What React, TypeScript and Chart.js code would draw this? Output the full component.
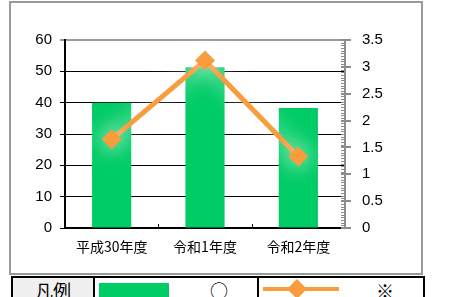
import React, { useEffect, useRef } from "react";
import { Chart, registerables } from "chart.js";

Chart.register(...registerables);

const categories = ["平成30年度", "令和1年度", "令和2年度"];
const barValues = [40, 51.3, 38.3];
const lineValues = [1.65, 3.12, 1.33];
const leftTicks = [0, 10, 20, 30, 40, 50, 60];
const rightTicks = [0, 0.5, 1, 1.5, 2, 2.5, 3, 3.5];
const legendTitle = "凡例";
const legendBarLabel = "○";
const legendLineLabel = "※";

const GREEN = "#00CC66";
const ORANGE = "#F89C3C";
const NUM_FONT = "'Liberation Sans', Arial, sans-serif";
const CJK_FONT = "'Noto Sans CJK JP', sans-serif";

const glowPlugin = {
  id: "glow",
  beforeDatasetDraw(chart: any, args: any) {
    if (args.index === 1) {
      const ctx = chart.ctx;
      ctx.save();
      ctx.shadowColor = "rgba(255,255,255,1)";
      ctx.shadowBlur = 22;
    }
  },
  afterDatasetDraw(chart: any, args: any) {
    if (args.index === 1) chart.ctx.restore();
  },
};

const ticksPlugin = {
  id: "extraTicks",
  afterDraw(chart: any) {
    const ctx = chart.ctx;
    const y2 = chart.scales.y2;
    const x = chart.scales.x;
    const area = chart.chartArea;
    ctx.save();
    ctx.strokeStyle = "#8c8c8c";
    ctx.lineWidth = 1;
    const max = rightTicks[rightTicks.length - 1];
    for (let i = 0; i <= max * 20 + 0.001; i++) {
      const v = i / 20;
      const py = Math.round(y2.getPixelForValue(v)) + 0.5;
      ctx.beginPath();
      ctx.moveTo(area.right - 4, py);
      ctx.lineTo(area.right, py);
      ctx.stroke();
    }
    ctx.lineWidth = 2;
    for (const v of rightTicks) {
      const py = Math.round(y2.getPixelForValue(v));
      ctx.beginPath();
      ctx.moveTo(area.right - 4, py);
      ctx.lineTo(area.right + 6, py);
      ctx.stroke();
    }
    ctx.strokeStyle = "#000";
    ctx.lineWidth = 1;
    for (let i = 1; i < categories.length; i++) {
      const px = Math.round((x.getPixelForTick(i - 1) + x.getPixelForTick(i)) / 2) + 0.5;
      ctx.beginPath();
      ctx.moveTo(px, area.bottom);
      ctx.lineTo(px, area.bottom - 4);
      ctx.stroke();
    }
    ctx.restore();
  },
};

function ChartCanvas() {
  const ref = useRef<HTMLCanvasElement>(null);
  useEffect(() => {
    const chart = new Chart(ref.current!, {
      type: "bar",
      data: {
        labels: categories,
        datasets: [
          {
            type: "bar",
            data: barValues,
            backgroundColor: GREEN,
            borderWidth: 0,
            categoryPercentage: 1,
            barPercentage: 0.42,
            yAxisID: "y",
            order: 1,
          },
          {
            type: "line",
            data: lineValues,
            borderColor: ORANGE,
            backgroundColor: ORANGE,
            borderWidth: 5,
            pointStyle: "rectRot",
            pointRadius: 10,
            pointBorderWidth: 0,
            pointBackgroundColor: ORANGE,
            yAxisID: "y2",
            order: 0,
          } as any,
        ],
      },
      options: {
        animation: false,
        responsive: false,
        events: [],
        layout: { padding: { top: 37, left: 0, right: 0, bottom: 0 } },
        plugins: { legend: { display: false }, tooltip: { enabled: false } },
        scales: {
          x: {
            offset: true,
            grid: { display: false, drawTicks: false, tickLength: 0 },
            border: { display: true, color: "#000", width: 2 },
            ticks: { font: { family: CJK_FONT, size: 14 }, color: "#000", padding: 10, maxRotation: 0 },
            afterFit: (s: any) => { s.height = 45; },
          },
          y: {
            position: "left",
            min: leftTicks[0],
            max: leftTicks[leftTicks.length - 1],
            afterBuildTicks: (s: any) => { s.ticks = leftTicks.map((v) => ({ value: v })); },
            grid: {
              color: (c: any) => (c.tick && c.tick.value === leftTicks[leftTicks.length - 1] ? "#9a9a9a" : "#000"),
              lineWidth: (c: any) => (c.tick && c.tick.value === leftTicks[leftTicks.length - 1] ? 2 : 1),
              tickLength: 5,
            },
            border: { display: true, color: "#000", width: 2 },
            ticks: { font: { family: NUM_FONT, size: 15 }, color: "#000", padding: 8 },
            afterFit: (s: any) => { s.width = 54; },
          },
          y2: {
            position: "right",
            min: rightTicks[0],
            max: rightTicks[rightTicks.length - 1],
            afterBuildTicks: (s: any) => { s.ticks = rightTicks.map((v) => ({ value: v })); },
            grid: { drawOnChartArea: false, drawTicks: true, tickLength: 6, color: "transparent" },
            border: { display: true, color: "#8c8c8c", width: 2 },
            ticks: { font: { family: NUM_FONT, size: 15 }, color: "#000", padding: 11, callback: (v: any) => String(v) },
            afterFit: (s: any) => { s.width = 76; },
          },
        },
      },
      plugins: [glowPlugin, ticksPlugin],
    } as any);
    return () => chart.destroy();
  }, []);
  return <canvas ref={ref} width={410} height={270} style={{ position: "absolute", left: 11, top: 3, width: 410, height: 270 }} />;
}

export default function App() {
  return (
    <div style={{ position: "absolute", left: 0, top: 0, width: 460, height: 297, overflow: "hidden", background: "#fff" }}>
      <div style={{ position: "absolute", left: 9, top: 1, width: 414, height: 274, border: "2px solid #9a9a9a", boxSizing: "border-box" }} />
      <ChartCanvas />
      <div style={{ position: "absolute", left: 11, top: 276, width: 414, height: 30, border: "2px solid #000", boxSizing: "border-box" }} />
      <div style={{ position: "absolute", left: 13, top: 278, width: 80, height: 28, background: "#f0f0f0" }} />
      <div style={{ position: "absolute", left: 93, top: 276, width: 2, height: 30, background: "#000" }} />
      <div style={{ position: "absolute", left: 257, top: 276, width: 2, height: 30, background: "#000" }} />
      <div style={{ position: "absolute", left: 13, top: 277, width: 80, textAlign: "center", fontFamily: CJK_FONT, fontSize: 18, lineHeight: "26px", color: "#000" }}>{legendTitle}</div>
      <div style={{ position: "absolute", left: 99, top: 283, width: 70, height: 20, background: GREEN }} />
      <div style={{ position: "absolute", left: 199, top: 277, width: 40, textAlign: "center", fontFamily: CJK_FONT, fontSize: 18, lineHeight: "26px", color: "#000" }}>{legendBarLabel}</div>
      <div style={{ position: "absolute", left: 263, top: 287, width: 76, height: 4, background: ORANGE }} />
      <div style={{ position: "absolute", left: 290, top: 282, width: 14, height: 14, background: ORANGE, transform: "rotate(45deg)" }} />
      <div style={{ position: "absolute", left: 365, top: 277, width: 40, textAlign: "center", fontFamily: CJK_FONT, fontSize: 18, lineHeight: "26px", color: "#000" }}>{legendLineLabel}</div>
    </div>
  );
}
